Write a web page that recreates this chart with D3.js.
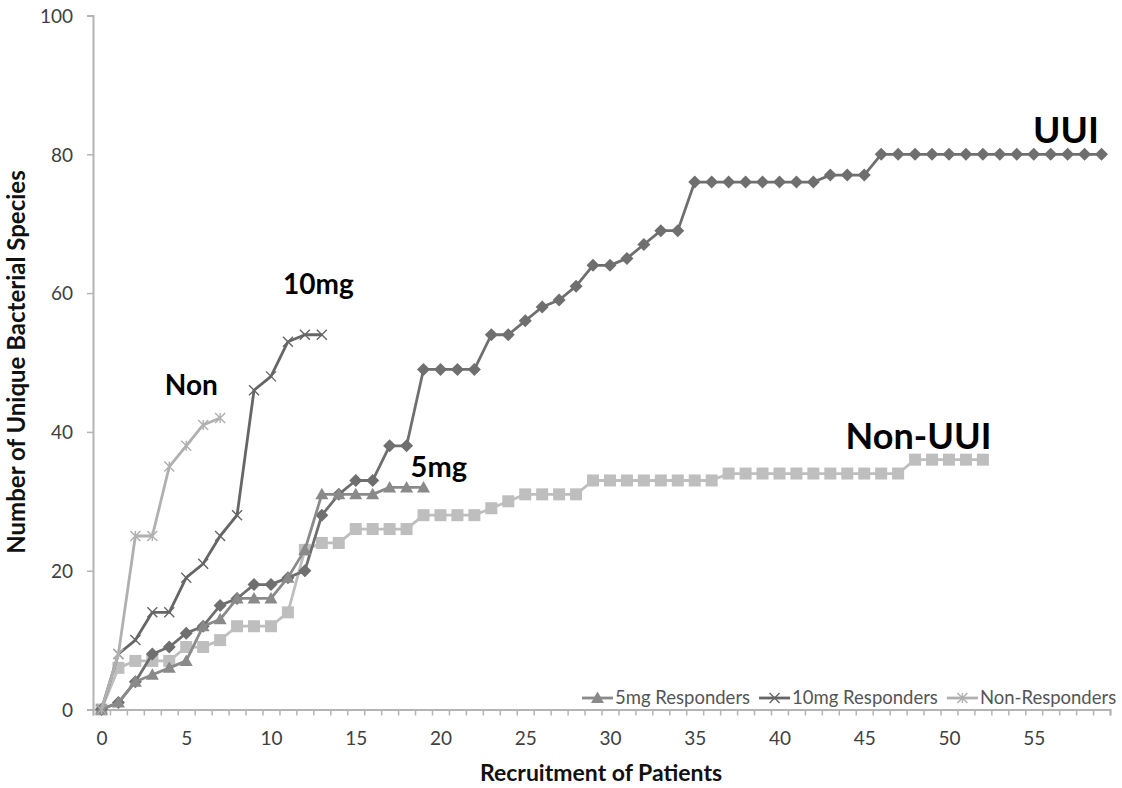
<!DOCTYPE html>
<html>
<head>
<meta charset="utf-8">
<script src="https://cdn.jsdelivr.net/npm/d3@7"></script>
<style>
  body { margin: 0; background: #fff; }
  svg { display: block; }
  text { font-family: Lato, "Open Sans", sans-serif; }
</style>
</head>
<body>
<svg id="chart" width="1122" height="788"></svg>
<script>
/*
  Cumulative unique bacterial species vs. recruitment of patients
  Excel-style line chart, one category per patient (0..59)
*/

// Series values, one per recruited patient (index = patient count)
const uui = [0, 1, 4, 8, 9, 11, 12, 15, 16, 18, 18, 19, 20, 28, 31, 33, 33, 38, 38,
  49, 49, 49, 49, 54, 54, 56, 58, 59, 61, 64, 64, 65, 67, 69, 69,
  76, 76, 76, 76, 76, 76, 76, 76, 77, 77, 77,
  80, 80, 80, 80, 80, 80, 80, 80, 80, 80, 80, 80, 80, 80];
const nonUui = [0, 6, 7, 7, 7, 9, 9, 10, 12, 12, 12, 14, 23, 24, 24, 26, 26, 26, 26,
  28, 28, 28, 28, 29, 30, 31, 31, 31, 31,
  33, 33, 33, 33, 33, 33, 33, 33,
  34, 34, 34, 34, 34, 34, 34, 34, 34, 34, 34,
  36, 36, 36, 36, 36];
const fiveMg = [0, 1, 4, 5, 6, 7, 12, 13, 16, 16, 16, 19, 23, 31, 31, 31, 31, 32, 32, 32];
const tenMg = [0, 8, 10, 14, 14, 19, 21, 25, 28, 46, 48, 53, 54, 54];
const nonResp = [0, 8, 25, 25, 35, 38, 41, 42];

// Axis ticks and labels
const categoryCount = 60;
const xTickLabels = [0, 5, 10, 15, 20, 25, 30, 35, 40, 45, 50, 55];
const yTicks = [0, 20, 40, 60, 80, 100];

// In-plot annotations: [text, x category, y value, font size]
const annotations = [
  ['UUI', 56.9, 81.7, 37],
  ['Non-UUI', 48.2, 37.6, 36],
  ['10mg', 12.8, 59.8, 28],
  ['Non', 5.3, 45.3, 28],
  ['5mg', 19.9, 33.5, 29]
];

const legendItems = ['5mg Responders', '10mg Responders', 'Non-Responders'];

/**
 * Scales
 */
const margin = { left: 93, right: 1110, top: 15.5, bottom: 709.5 };
const scale = {};
scale.x = d3.scaleLinear()
  .domain([-0.5, categoryCount - 0.5])
  .range([margin.left, margin.right]);
scale.y = d3.scaleLinear()
  .domain([0, 100])
  .range([margin.bottom, margin.top]);

const svg = d3.select('#chart');
const AXIS_COLOR = '#b4b4b4';
const LABEL_COLOR = '#404040';

/**
 * Axes
 */
const axis = {};
axis.y = d3.axisLeft(scale.y)
  .tickValues(yTicks)
  .tickSize(6)
  .tickPadding(14)
  .tickFormat(d3.format('d'));

axis.xTicks = d3.axisBottom(scale.x)
  .tickValues(d3.range(-0.5, categoryCount, 1))
  .tickSize(6)
  .tickFormat('');

axis.xLabels = d3.axisBottom(scale.x)
  .tickValues(xTickLabels)
  .tickSize(0)
  .tickPadding(22)
  .tickFormat(d3.format('d'));

const gy = svg.append('g')
  .attr('transform', `translate(${margin.left},0)`)
  .call(axis.y);
const gx = svg.append('g')
  .attr('transform', `translate(0,${margin.bottom})`)
  .call(axis.xTicks);
const gxl = svg.append('g')
  .attr('transform', `translate(0,${margin.bottom})`)
  .call(axis.xLabels);

[gy, gx, gxl].forEach(g => {
  g.selectAll('.domain').attr('stroke', AXIS_COLOR).attr('stroke-width', 2);
  g.selectAll('.tick line').attr('stroke', AXIS_COLOR).attr('stroke-width', 1.5);
  g.selectAll('.tick text')
    .attr('fill', LABEL_COLOR)
    .style('font-size', '19px')
    .style('font-family', 'Lato, sans-serif');
});
gxl.select('.domain').remove();
gy.selectAll('.tick text').attr('dy', '0.36em');

// Axis titles
svg.append('text')
  .attr('transform', 'translate(25,362) rotate(-90)')
  .attr('text-anchor', 'middle')
  .attr('font-weight', 'bold')
  .attr('font-size', 24)
  .attr('fill', '#111')
  .text('Number of Unique Bacterial Species');

svg.append('text')
  .attr('x', 601)
  .attr('y', 781)
  .attr('text-anchor', 'middle')
  .attr('font-weight', 'bold')
  .attr('font-size', 23)
  .attr('fill', '#111')
  .text('Recruitment of Patients');

/**
 * Marker painters
 */
function drawMarker(g, type, color, x, y) {
  if (type === 'diamond') {
    g.append('path')
      .attr('d', `M${x},${y - 6.5}L${x + 6.5},${y}L${x},${y + 6.5}L${x - 6.5},${y}Z`)
      .attr('fill', color);
  } else if (type === 'square') {
    g.append('rect')
      .attr('x', x - 6).attr('y', y - 6)
      .attr('width', 12).attr('height', 12)
      .attr('fill', color);
  } else if (type === 'triangle') {
    g.append('path')
      .attr('d', `M${x},${y - 6.5}L${x + 6.5},${y + 5}L${x - 6.5},${y + 5}Z`)
      .attr('fill', color);
  } else if (type === 'x' || type === 'star') {
    let d = `M${x - 5},${y - 5}L${x + 5},${y + 5}M${x - 5},${y + 5}L${x + 5},${y - 5}`;
    if (type === 'star') d += `M${x},${y - 5}L${x},${y + 5}`;
    g.append('path')
      .attr('d', d)
      .attr('stroke', color)
      .attr('stroke-width', 1.4)
      .attr('fill', 'none');
  }
}

const series = [
  { name: 'Non-UUI', values: nonUui, color: '#bebebe', marker: 'square' },
  { name: 'UUI', values: uui, color: '#6f6f6f', marker: 'diamond' },
  { name: '5mg Responders', values: fiveMg, color: '#8a8a8a', marker: 'triangle' },
  { name: '10mg Responders', values: tenMg, color: '#666666', marker: 'x' },
  { name: 'Non-Responders', values: nonResp, color: '#b0b0b0', marker: 'star' }
];

const line = d3.line()
  .x((d, i) => scale.x(i))
  .y(d => scale.y(d));

const plot = svg.append('g').attr('class', 'series');
series.forEach(s => {
  const g = plot.append('g');
  g.append('path')
    .datum(s.values)
    .attr('d', line)
    .attr('fill', 'none')
    .attr('stroke', s.color)
    .attr('stroke-width', 2.8)
    .attr('stroke-linejoin', 'round');
  s.values.forEach((v, i) => drawMarker(g, s.marker, s.color, scale.x(i), scale.y(v)));
});

/**
 * Annotations
 */
svg.append('g').selectAll('text')
  .data(annotations)
  .join('text')
  .attr('x', d => scale.x(d[1]))
  .attr('y', d => scale.y(d[2]))
  .attr('text-anchor', 'middle')
  .attr('font-weight', 'bold')
  .attr('font-size', d => d[3])
  .attr('fill', '#000')
  .text(d => d[0]);

/**
 * Legend (bottom right, inside plot)
 */
const legendSeries = legendItems.map(n => series.find(s => s.name === n));
const legend = svg.append('g').attr('transform', 'translate(582,698)');
let lx = 0;
legendSeries.forEach(s => {
  const g = legend.append('g').attr('transform', `translate(${lx},0)`);
  g.append('line')
    .attr('x1', 0).attr('x2', 31)
    .attr('stroke', s.color)
    .attr('stroke-width', 2.8);
  drawMarker(g, s.marker, s.color, 15.5, 0);
  const t = g.append('text')
    .attr('x', 33)
    .attr('dy', '0.35em')
    .attr('font-size', 18.5)
    .attr('fill', '#555')
    .text(s.name);
  lx += 33 + t.node().getComputedTextLength() + 9;
});
</script>
</body>
</html>
